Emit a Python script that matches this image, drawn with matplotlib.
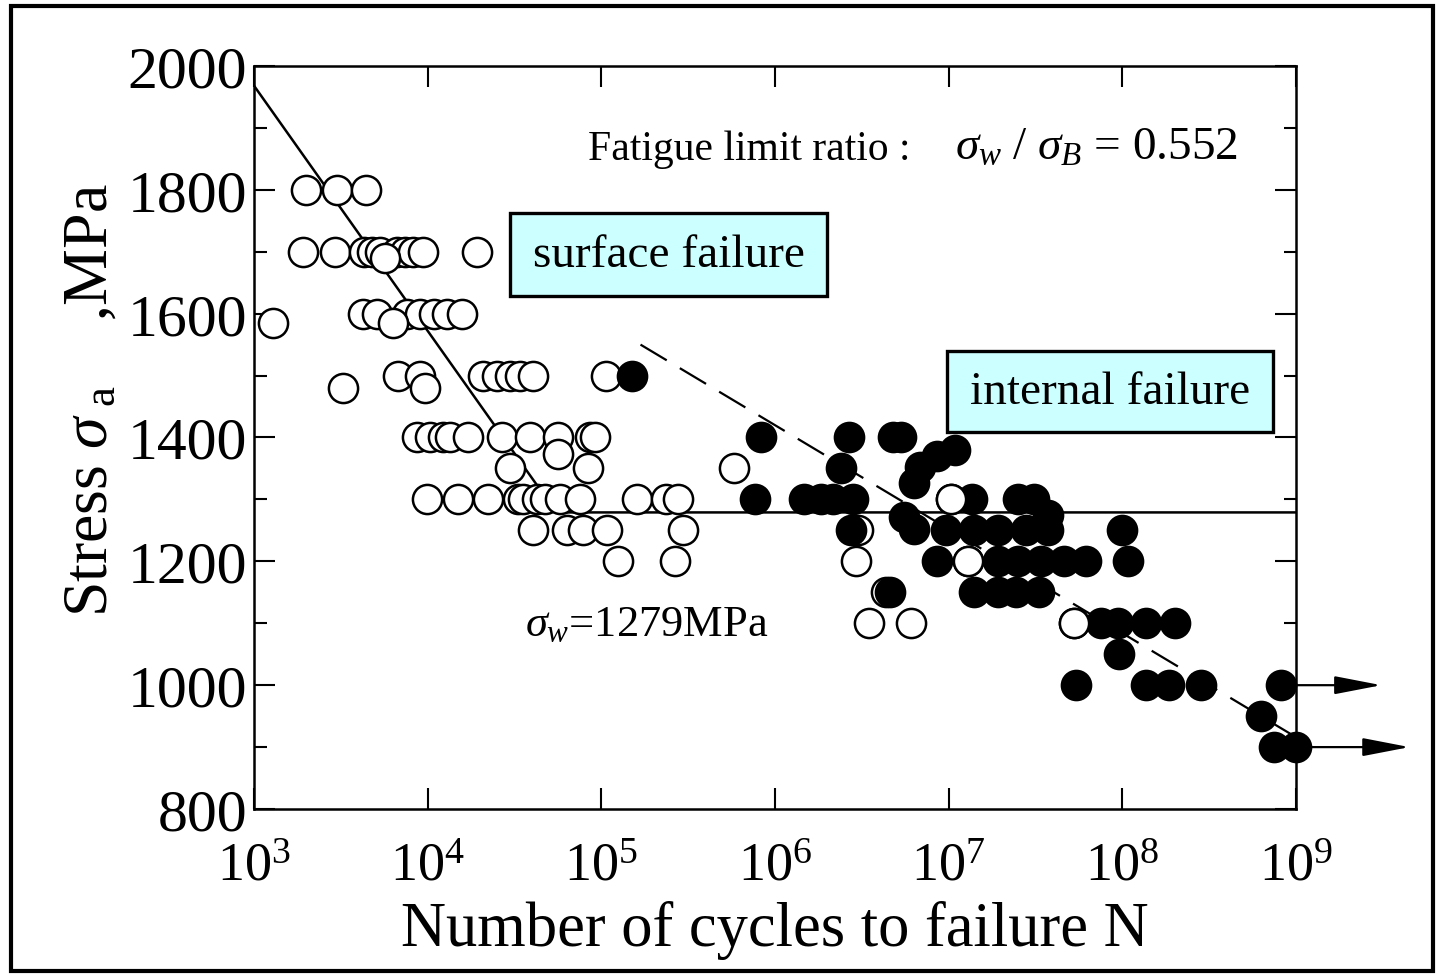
import matplotlib
matplotlib.use("Agg")
import matplotlib.pyplot as plt
from matplotlib.patches import Rectangle
from matplotlib.ticker import FixedLocator, NullLocator

plt.rcParams['font.family'] = ['Liberation Serif', 'DejaVu Serif']
plt.rcParams['mathtext.fontset'] = 'custom'
plt.rcParams['mathtext.rm'] = 'Liberation Serif'
plt.rcParams['mathtext.it'] = 'Liberation Serif:italic'
plt.rcParams['mathtext.bf'] = 'Liberation Serif:bold'
plt.rcParams['lines.scale_dashes'] = False

# ---- S-N data: surface-initiated failures (open circles) ----
surface_N = [2.0e3, 3.0e3, 4.4e3,
             1.92e3, 2.93e3, 4.3e3, 4.78e3, 5.3e3, 6.67e3, 7.4e3, 8.25e3, 9.42e3, 1.93e4,
             5.7e3,
             4.25e3, 5.1e3, 7.6e3, 9.05e3, 1.08e4, 1.29e4, 1.58e4,
             1.29e3, 6.3e3,
             6.75e3, 9.05e3, 2.09e4, 2.52e4, 2.99e4, 3.41e4, 4.05e4, 1.07e5,
             3.26e3, 9.67e3,
             8.7e3, 1.03e4, 1.23e4, 1.35e4, 1.71e4, 2.69e4, 3.9e4, 5.65e4, 8.64e4, 9.2e4,
             5.65e4,
             2.99e4, 8.4e4, 5.77e5,
             9.9e3, 1.5e4, 2.23e4, 3.32e4, 3.55e4, 4.28e4, 4.76e4, 5.8e4, 7.5e4, 1.61e5, 2.35e5, 2.78e5, 1.03e7,
             4.05e4, 6.37e4, 7.87e4, 1.08e5, 2.97e5, 2.99e6,
             1.24e5, 2.67e5, 2.91e6, 1.29e7,
             4.34e6,
             3.46e6, 6.04e6, 5.25e7]
surface_S = [1800, 1800, 1800,
             1700, 1700, 1700, 1700, 1700, 1700, 1700, 1700, 1700, 1700,
             1690,
             1600, 1600, 1600, 1600, 1600, 1600, 1600,
             1585, 1585,
             1500, 1500, 1500, 1500, 1500, 1500, 1500, 1500,
             1480, 1480,
             1400, 1400, 1400, 1400, 1400, 1400, 1400, 1400, 1400, 1400,
             1373,
             1350, 1350, 1350,
             1300, 1300, 1300, 1300, 1300, 1300, 1300, 1300, 1300, 1300, 1300, 1300, 1300,
             1250, 1250, 1250, 1250, 1250, 1250,
             1200, 1200, 1200, 1200,
             1150,
             1100, 1100, 1100]

# ---- S-N data: internal (fish-eye) failures (filled circles) ----
internal_N = [1.51e5,
              8.25e5, 2.65e6, 4.8e6, 5.3e6,
              1.08e7, 8.6e6, 6.8e6, 6.3e6, 5.5e6, 6.3e6,
              2.4e6,
              7.7e5, 1.46e6, 1.83e6, 2.17e6, 2.8e6, 1.37e7, 2.5e7, 3.1e7, 3.72e7,
              2.72e6, 9.6e6, 1.39e7, 1.92e7, 2.78e7, 3.72e7, 1.0e8,
              8.6e6, 1.92e7, 2.5e7, 3.4e7, 4.6e7, 6.2e7, 1.08e8,
              4.6e6, 1.39e7, 1.92e7, 2.43e7, 3.3e7,
              7.5e7, 9.4e7, 1.37e8, 2.0e8,
              9.5e7,
              5.4e7, 1.37e8, 1.85e8, 2.84e8, 8.2e8,
              6.3e8,
              7.5e8, 1.0e9]
internal_S = [1500,
              1400, 1400, 1400, 1400,
              1380, 1370, 1353, 1327, 1272, 1252,
              1350,
              1300, 1300, 1300, 1300, 1300, 1300, 1300, 1300, 1275,
              1250, 1250, 1250, 1250, 1250, 1250, 1250,
              1200, 1200, 1200, 1200, 1200, 1200, 1200,
              1150, 1150, 1150, 1150, 1150,
              1100, 1100, 1100, 1100,
              1050,
              1000, 1000, 1000, 1000, 1000,
              950,
              900, 900]

# run-out specimens (unbroken) marked with arrows
runout_S = [1000, 900]
runout_start_N = [1.0e9, 1.22e9]
runout_end_N = [3.1e9, 4.5e9]

# fitted lines
surface_line_N = [1.0e3, 5.5e4, 1.0e9]
surface_line_S = [1968, 1279, 1279]
internal_line_N = [1.68e5, 1.0e9]
internal_line_S = [1550, 916]

x_ticks = [1e3, 1e4, 1e5, 1e6, 1e7, 1e8, 1e9]
x_tick_labels = [r'$10^{3}$', r'$10^{4}$', r'$10^{5}$', r'$10^{6}$',
                 r'$10^{7}$', r'$10^{8}$', r'$10^{9}$']
y_ticks = [800, 1000, 1200, 1400, 1600, 1800, 2000]
y_minor_ticks = [900, 1100, 1300, 1500, 1700, 1900]

fig = plt.figure(figsize=(14.41, 9.79), dpi=100)
fig.patch.set_facecolor('white')
ax = fig.add_axes([0.1763, 0.1726, 0.7231, 0.759])

ax.plot(surface_line_N, surface_line_S, color='black', lw=1.8, zorder=2)
dash_line, = ax.plot(internal_line_N, internal_line_S, color='black', lw=1.6, zorder=2)
dash_line.set_dashes([22, 11])

marker_kw = dict(linestyle='none', marker='o', markersize=21, markeredgewidth=1.8,
                 markeredgecolor='black', clip_on=False)
ax.plot(surface_N, surface_S, markerfacecolor='white', zorder=3, **marker_kw)
ax.plot(internal_N, internal_S, markerfacecolor='black', zorder=4, **marker_kw)
# open symbols lying inside the dense internal-failure cloud sit on top
top_N = [n for n in surface_N if n >= 1e7]
top_S = [s for n, s in zip(surface_N, surface_S) if n >= 1e7]
ax.plot(top_N, top_S, markerfacecolor='white', zorder=5, **marker_kw)

for s, n0, n1 in zip(runout_S, runout_start_N, runout_end_N):
    ax.annotate('', xy=(n1, s), xytext=(n0, s), annotation_clip=False,
                arrowprops=dict(arrowstyle='-|>,head_length=1.45,head_width=0.28',
                                mutation_scale=20, lw=1.6, color='black',
                                shrinkA=0, shrinkB=0))

ax.set_xscale('log')
ax.set_xlim(1e3, 1e9)
ax.set_ylim(800, 2000)
ax.xaxis.set_major_locator(FixedLocator(x_ticks))
ax.xaxis.set_minor_locator(NullLocator())
ax.set_xticklabels(x_tick_labels)
ax.yaxis.set_major_locator(FixedLocator(y_ticks))
ax.yaxis.set_minor_locator(FixedLocator(y_minor_ticks))

for sp in ax.spines.values():
    sp.set_linewidth(1.8)
ax.tick_params(which='both', direction='in', top=True, right=True, width=1.5)
ax.tick_params(which='major', length=15)
ax.tick_params(which='minor', length=9)
ax.tick_params(axis='y', labelsize=43, pad=5)
ax.tick_params(axis='x', labelsize=39, pad=23)

ax.set_xlabel('Number of cycles to failure N', fontsize=45, labelpad=6)
ax.set_ylabel(r'Stress $\sigma_{\ \mathrm{a}}$    ,MPa', fontsize=46)
ax.yaxis.set_label_coords(-0.128, 0.552)

ax.text(0.3205, 0.875, 'Fatigue limit ratio :',
        transform=ax.transAxes, fontsize=30, ha='left', va='baseline')
ax.text(0.6727, 0.875, r'$\sigma_{w}\ /\ \sigma_{B}$ = 0.552',
        transform=ax.transAxes, fontsize=34, ha='left', va='baseline')
ax.text(0.26, 0.249, r'$\sigma_{w}$=1279MPa', transform=ax.transAxes,
        fontsize=32, ha='left', va='center')

boxes = [((0.2457, 0.6904), 0.3042, 0.1117, 'surface failure'),
         ((0.665, 0.5074), 0.3129, 0.109, 'internal failure')]
for (x0, y0), w, h, label in boxes:
    ax.add_patch(Rectangle((x0, y0), w, h, transform=ax.transAxes, facecolor='#CCFFFF',
                           edgecolor='black', lw=2.4, zorder=6, clip_on=False))
    ax.text(x0 + w / 2, y0 + h / 2, label, transform=ax.transAxes, fontsize=34,
            ha='center', va='center', zorder=7)

fig.add_artist(Rectangle((0.0076, 0.0072), 0.987, 0.9856, transform=fig.transFigure,
                         fill=False, lw=3, edgecolor='black'))

fig.savefig('out.png', dpi=100, facecolor='white')
